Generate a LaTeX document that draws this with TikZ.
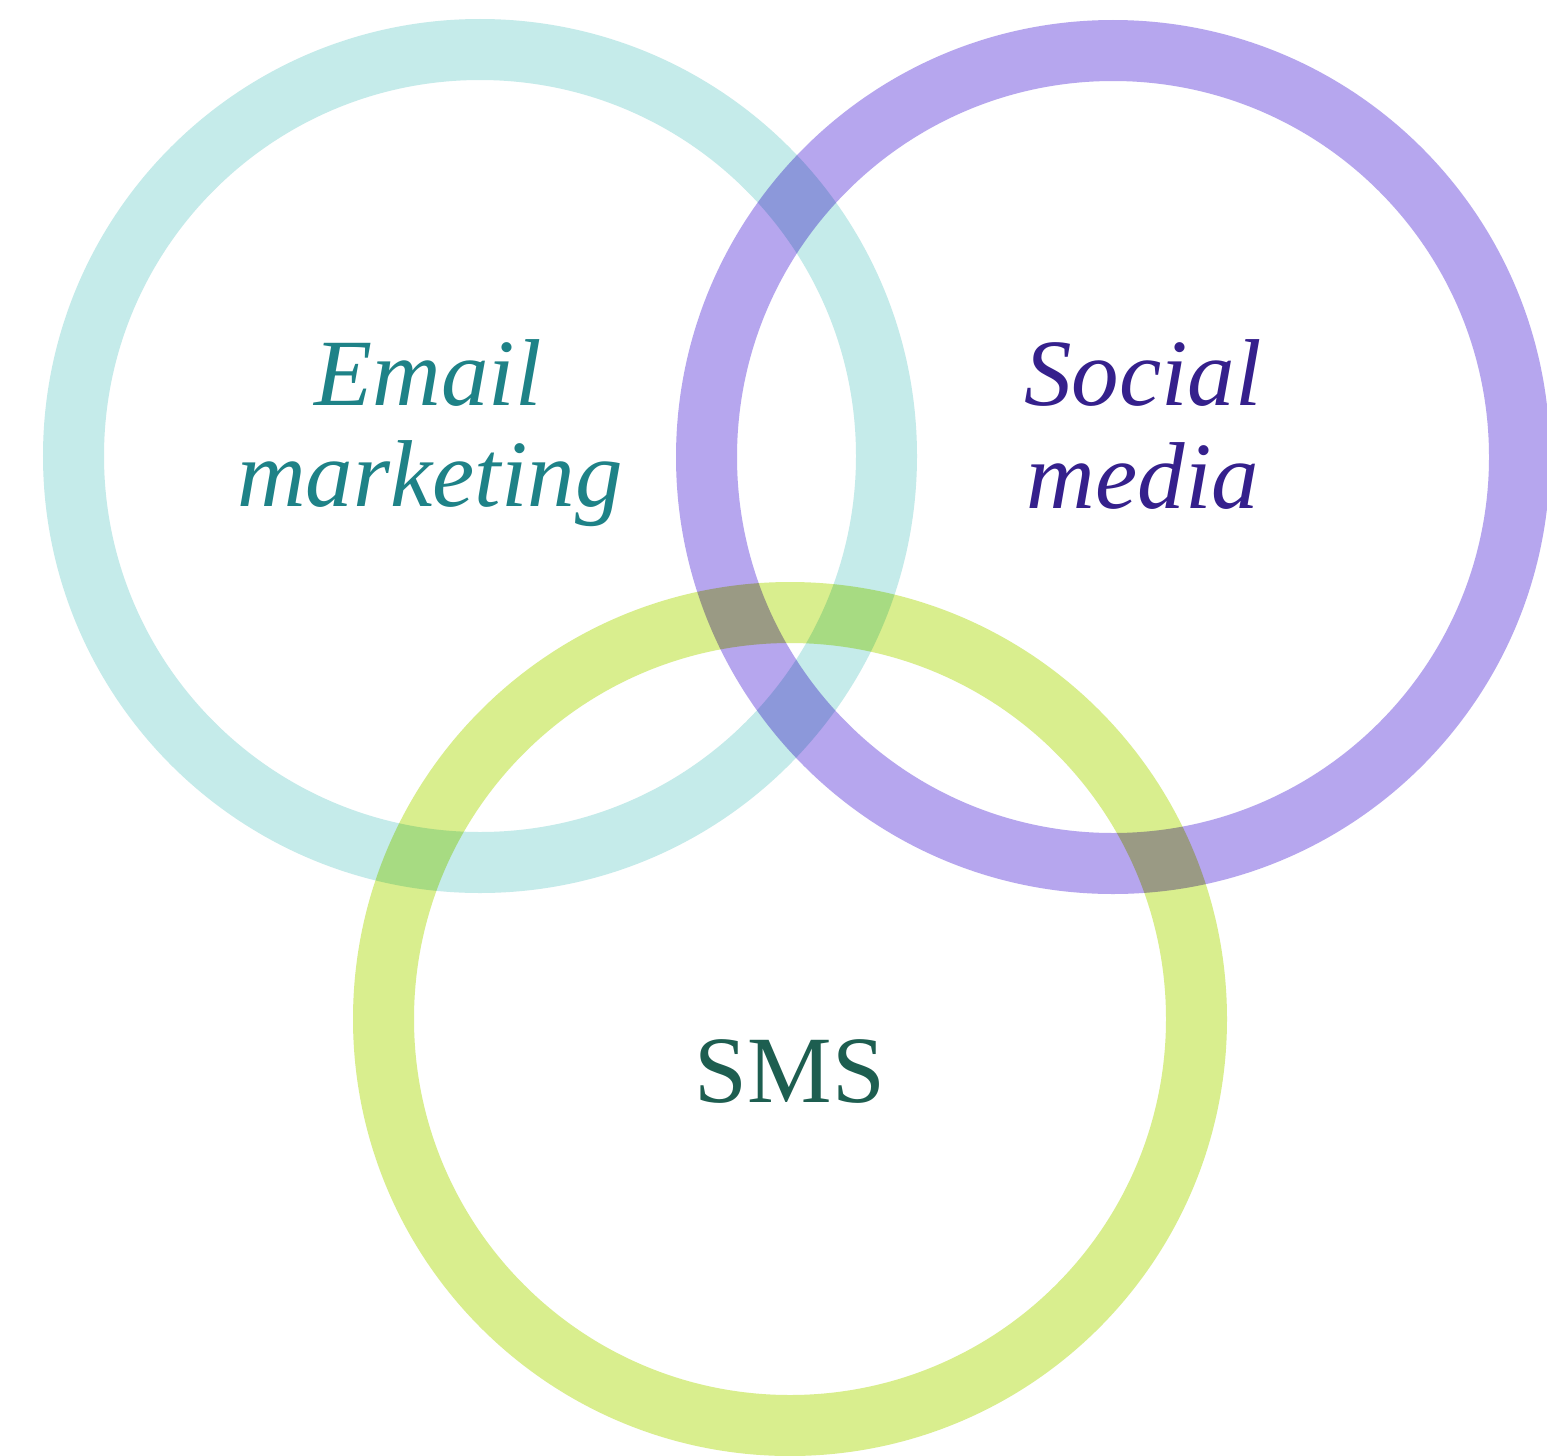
\documentclass[tikz,border=0pt]{standalone}
\usepackage{fontspec}
\setmainfont{Liberation Serif}
\definecolor{ringteal}{RGB}{197,235,234}
\definecolor{ringpurple}{RGB}{182,166,238}
\definecolor{ringgreen}{RGB}{217,238,142}
\definecolor{txtteal}{RGB}{30,130,135}
\definecolor{txtpurple}{RGB}{53,32,140}
\definecolor{txtgreen}{RGB}{29,94,80}
\begin{document}
\begin{tikzpicture}[x=1pt,y=-1pt,
  ring/.style={line width=61pt},
  lbl/.style={anchor=base, inner sep=0pt, font=\fontsize{95}{100}\selectfont}]
\clip (0,0) rectangle (1547,1456);
\fill[white] (0,0) rectangle (1547,1456);
\begin{scope}[blend group=multiply]
  \draw[ring, draw=ringteal] (480,456) circle[radius=406.5];
  \draw[ring, draw=ringpurple] (1113,457) circle[radius=406.5];
  \draw[ring, draw=ringgreen] (790,1019) circle[radius=406.5];
\end{scope}
\node[lbl, text=txtteal] (email1) at (428,405) {\itshape Email};
\node[lbl, text=txtteal] (email2) at (430,506) {\itshape marketing};
\node[lbl, text=txtpurple] (social1) at (1143,405) {\itshape Social};
\node[lbl, text=txtpurple] (social2) at (1143,508) {\itshape media};
\node[lbl, text=txtgreen] (sms) at (790,1102) {SMS};
\end{tikzpicture}
\end{document}
